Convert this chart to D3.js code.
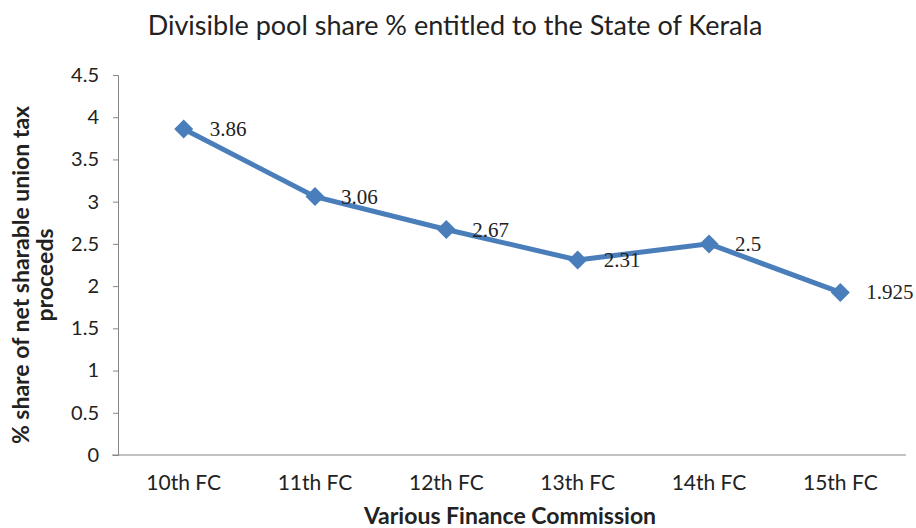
<html>
<head>
<script src="https://d3js.org/d3.v7.min.js"></script>
<style>
body { margin: 0; background: white; }
text { fill: #222; }
</style>
</head>
<body>
<svg width="916" height="528"></svg>
<script>
var categories = ["10th FC", "11th FC", "12th FC", "13th FC", "14th FC", "15th FC"];
var shares = [3.86, 3.06, 2.67, 2.31, 2.5, 1.925];
var yTicks = [0, 0.5, 1, 1.5, 2, 2.5, 3, 3.5, 4, 4.5];

var svg = d3.select("svg");
var plotLeft = 118, plotRight = 906, plotTop = 75, plotBottom = 455;

var x = d3.scaleBand().domain(categories).range([plotLeft, plotRight]);
var y = d3.scaleLinear().domain([0, 4.5]).range([plotBottom, plotTop]);

var sans = "Lato, 'Open Sans', sans-serif";

// title
svg.append("text").attr("x", 455).attr("y", 35).attr("text-anchor", "middle")
  .style("font-family", sans).style("font-size", "27px")
  .text("Divisible pool share % entitled to the State of Kerala");

// y axis
var yAxis = svg.append("g").attr("transform", "translate(" + plotLeft + ",0)")
  .call(d3.axisLeft(y).tickValues(yTicks).tickSize(5).tickPadding(14).tickFormat(d3.format("")));
yAxis.selectAll("path, line").attr("stroke", "#868686");
yAxis.selectAll("text").style("font-family", sans).style("font-size", "20px").attr("fill", "#222");

// x axis
var xAxis = svg.append("g").attr("transform", "translate(0," + plotBottom + ")")
  .call(d3.axisBottom(x).tickSize(0).tickPadding(20));
xAxis.select("path").attr("stroke", "#868686").attr("d", "M" + (plotLeft - 6) + ",0H" + plotRight);
xAxis.selectAll("text").style("font-family", sans).style("font-size", "21px").attr("fill", "#222");

// axis titles
svg.append("text").attr("x", 510).attr("y", 524).attr("text-anchor", "middle")
  .style("font-family", sans).style("font-size", "23px").style("font-weight", "bold")
  .text("Various Finance Commission");

var yt = svg.append("text").attr("transform", "translate(29,275) rotate(-90)")
  .attr("text-anchor", "middle")
  .style("font-family", sans).style("font-size", "23px").style("font-weight", "bold");
yt.append("tspan").attr("x", 0).attr("y", 0).text("% share of net sharable union tax");
yt.append("tspan").attr("x", 0).attr("y", 24).text("proceeds");

// line
var cx = function(d, i) { return x(categories[i]) + x.bandwidth() / 2; };
var line = d3.line().x(cx).y(function(d) { return y(d); });
svg.append("path").datum(shares).attr("d", line)
  .attr("fill", "none").attr("stroke", "#4a7ebb").attr("stroke-width", 5);

svg.selectAll("path.pt").data(shares).enter().append("path")
  .attr("class", "pt")
  .attr("d", d3.symbol().type(d3.symbolDiamond2).size(230))
  .attr("transform", function(d, i) { return "translate(" + cx(d, i) + "," + y(d) + ")"; })
  .attr("fill", "#4a7ebb");

svg.selectAll("text.lbl").data(shares).enter().append("text")
  .attr("class", "lbl")
  .attr("x", function(d, i) { return cx(d, i) + 26; })
  .attr("y", function(d) { return y(d) + 7; })
  .style("font-family", "'Liberation Serif', serif").style("font-size", "21px")
  .text(function(d) { return d; });
</script>
</body>
</html>
